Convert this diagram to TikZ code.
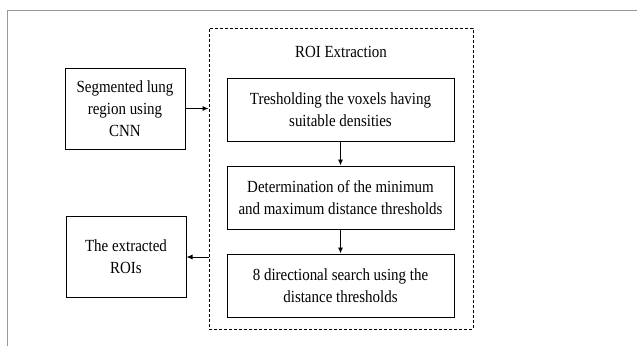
\documentclass[tikz,border=0pt]{standalone}
\usepackage{fontspec}
\setmainfont[FakeStretch=0.88]{Liberation Serif}
\usetikzlibrary{arrows.meta, positioning}

\begin{document}
\begin{tikzpicture}[
  x=1pt, y=-1pt,
  stepbox/.style={draw, line width=1pt, minimum width=227pt, minimum height=63pt, align=center, inner sep=2pt, font=\fontsize{17}{22}\selectfont},
  io/.style={draw, line width=1pt, minimum width=120pt, minimum height=81pt, align=center, inner sep=2pt, font=\fontsize{17}{22}\selectfont},
  group/.style={draw, line width=0.8pt, dash pattern=on 3pt off 2pt, minimum width=264pt, minimum height=301pt, inner sep=0pt},
  arrow/.style={-{Latex[length=6pt,width=5pt]}, line width=0.9pt},
  node distance=24pt
]
\useasboundingbox (0,0) rectangle (637,346);

% Outer frame (cut off)
\draw[black!40, line width=1pt] (7,346) |- (637,10);

% Nodes
\node[group] (roi) at (341,178.5) {};
\node[font=\fontsize{17}{22}\selectfont] (title) at (341,52) {ROI Extraction};
\node[stepbox] (thresh) at (340.5,109.5) {Tresholding the voxels having\\suitable densities};
\node[stepbox, below=of thresh] (dist) {Determination of the minimum\\and maximum distance thresholds};
\node[stepbox, below=of dist] (search) {8 directional search using the\\distance thresholds};
\node[io] (lung) at (125,108.5) {Segmented lung\\region using\\CNN};
\node[io] (rois) at (126,257) {The extracted\\ROIs};

% Arrows
\draw[arrow] (lung) -- (lung -| roi.west);
\draw[arrow] (rois.east -| roi.west) -- (rois);
\draw[arrow] (thresh) -- (dist);
\draw[arrow] (dist) -- (search);

\end{tikzpicture}
\end{document}
